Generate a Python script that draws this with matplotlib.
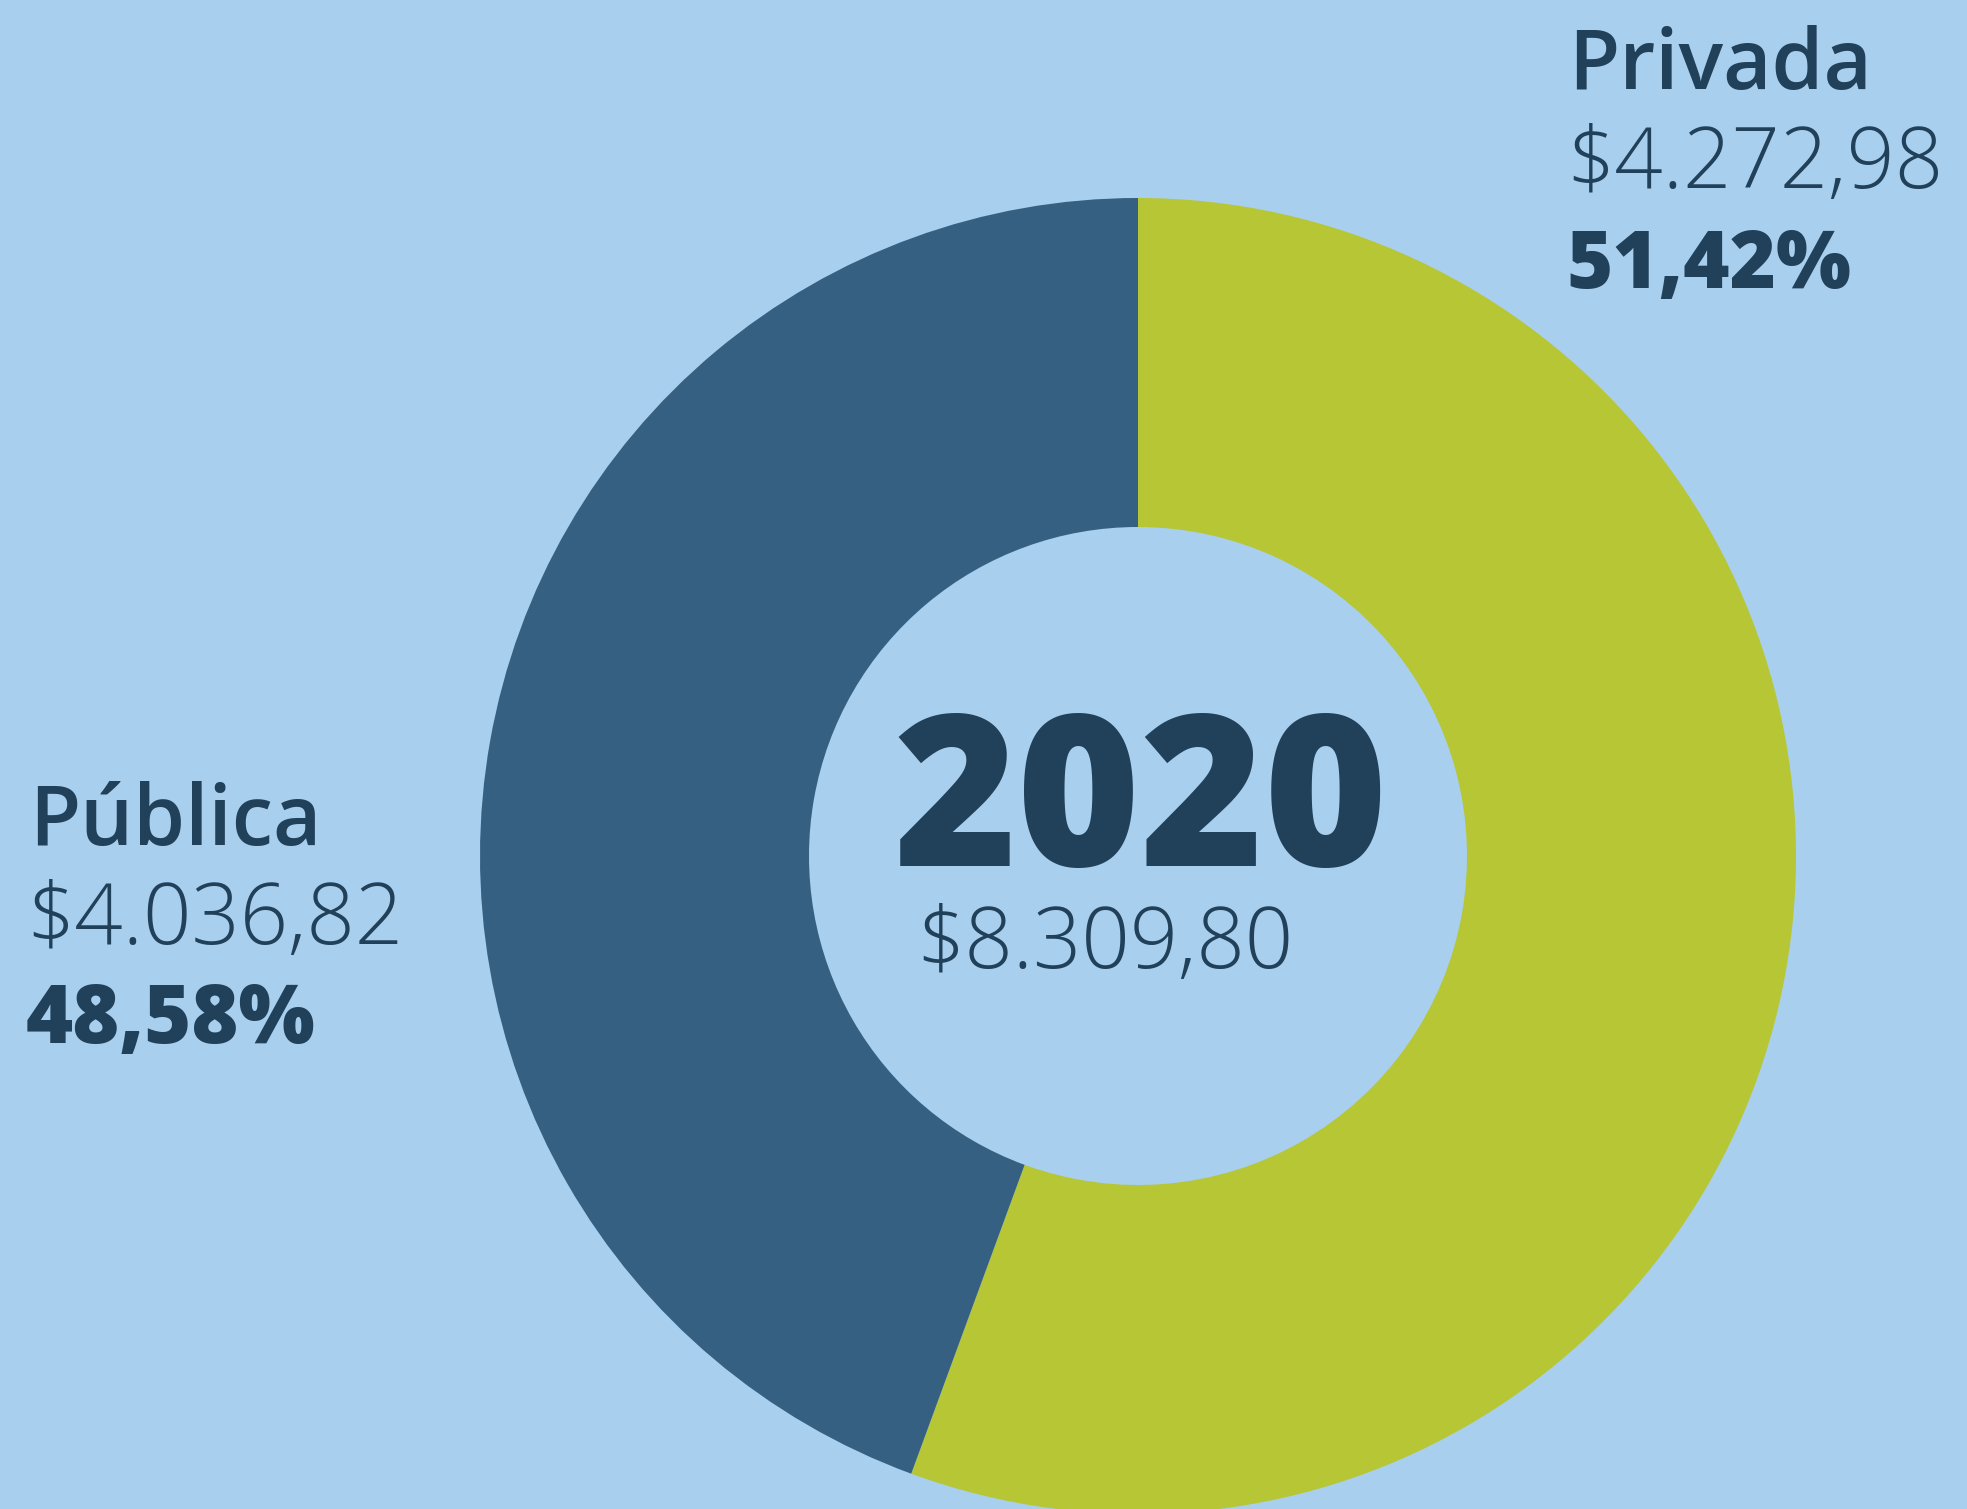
import matplotlib
matplotlib.use("Agg")
import matplotlib.pyplot as plt

# ---- data ----
year = "2020"
total_label = "$8.309,80"
categories = ["Privada", "Pública"]
amount_labels = ["$4.272,98", "$4.036,82"]
percent_labels = ["51,42%", "48,58%"]
drawn_shares = [55.6, 44.4]

# ---- style ----
BG = "#A8CFEE"
TEXT = "#21405A"
COLORS = ["#B7C634", "#356082"]
FONT = ["Open Sans", "DejaVu Sans"]

W, H = 1967, 1509
fig = plt.figure(figsize=(W / 100, H / 100), dpi=100, facecolor=BG)
ax = fig.add_axes([0, 0, 1, 1])
ax.set_facecolor(BG)

cx, cy = 1138, H - 856
R = 658
ax.pie(drawn_shares, colors=COLORS, startangle=90, counterclock=False,
       center=(cx, cy), radius=R, frame=True,
       wedgeprops=dict(width=329, linewidth=0))
ax.set_xlim(0, W)
ax.set_ylim(0, H)
ax.set_aspect("equal")
ax.axis("off")


def put(x, y_top_px, s, size, weight, ha="left"):
    ax.text(x, H - y_top_px, s, fontsize=size, fontweight=weight, color=TEXT,
            ha=ha, va="baseline", family=FONT)


# Privada block (top right)
put(1568, 89, categories[0], 60, 600)
put(1566, 188, amount_labels[0], 61, 300)
put(1566, 288, percent_labels[0], 57, 800)

# Pública block (left)
put(29, 845, categories[1], 60, 600)
put(26, 944, amount_labels[1], 61, 300)
put(26, 1043, percent_labels[1], 58, 800)

# centre
put(1141, 866, year, 152, 800, ha="center")
put(1105, 968, total_label, 61, 300, ha="center")

fig.savefig("out.png", dpi=100, facecolor=BG)
